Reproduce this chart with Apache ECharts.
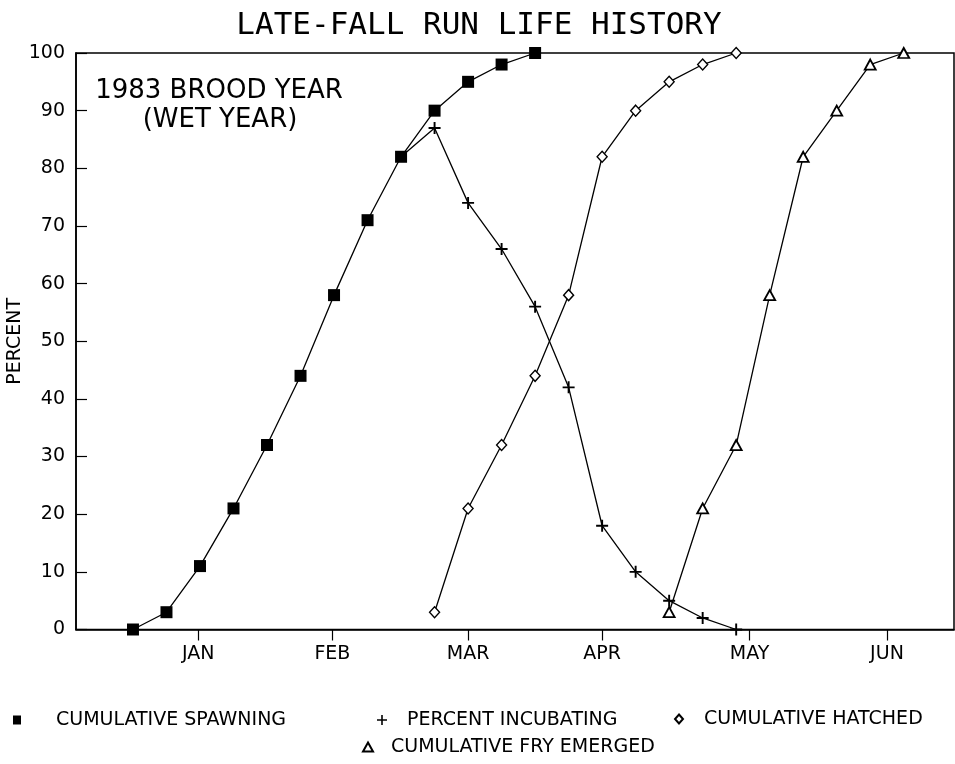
<!DOCTYPE html>
<html>
<head>
<meta charset="utf-8">
<title>Late-Fall Run Life History</title>
<script src="https://cdn.jsdelivr.net/npm/echarts@6/dist/echarts.min.js"></script>
<style>
  html, body { margin: 0; padding: 0; background: #fff; }
  #chart { width: 955px; height: 764px; }
</style>
</head>
<body>
<div id="chart"></div>
<script>
// x values are weeks from the first spawning observation
const monthTicks  = [1.95, 5.95, 10, 14, 18.4, 22.5];
const monthLabels = ['JAN', 'FEB', 'MAR', 'APR', 'MAY', 'JUN'];

const spawnWeeks = [0, 1, 2, 3, 4, 5, 6, 7, 8, 9, 10, 11, 12];
const spawning   = [0, 3, 11, 21, 32, 44, 58, 71, 82, 90, 95, 98, 100];

const incubWeeks = [8, 9, 10, 11, 12, 13, 14, 15, 16, 17, 18];
const incubating = [82, 87, 74, 66, 56, 42, 18, 10, 5, 2, 0];

const hatchWeeks = [9, 10, 11, 12, 13, 14, 15, 16, 17, 18];
const hatched    = [3, 21, 32, 44, 58, 82, 90, 95, 98, 100];

const fryWeeks   = [16, 17, 18, 19, 20, 21, 22, 23];
const fryEmerged = [3, 21, 32, 58, 82, 90, 98, 100];

const seriesNames = ['CUMULATIVE SPAWNING', 'PERCENT INCUBATING', 'CUMULATIVE HATCHED', 'CUMULATIVE FRY EMERGED'];

const FONT = "'DejaVu Sans', sans-serif";
const plusPath = 'path://M0,4.2H10V5.8H0Z M4.2,0H5.8V10H4.2Z';

const pairs = (xs, ys) => xs.map((x, i) => [x, ys[i]]);

const lineBase = {
  type: 'line',
  clip: false,
  animation: false,
  lineStyle: { color: '#000', width: 1.3 },
  emphasis: { disabled: true }
};

function legendFor(name, icon, left, top, gap, w, h) {
  return {
    data: [{ name: name, icon: icon }],
    left: left, top: top,
    padding: 0,
    itemWidth: w, itemHeight: h,
    selectedMode: false,
    formatter: n => '{g| }' + n,
    textStyle: {
      fontFamily: FONT, fontSize: 19, color: '#000', lineHeight: 22,
      rich: { g: { width: gap } }
    }
  };
}

const chart = echarts.init(document.getElementById('chart'), null, { renderer: 'canvas' });

chart.setOption({
  backgroundColor: '#fff',
  animation: false,
  grid: {
    left: 76, right: 1, top: 53, bottom: 134.5,
    containLabel: false,
    outerBoundsMode: 'none',
    show: true, borderColor: '#000', borderWidth: 1.5, backgroundColor: 'transparent'
  },
  xAxis: {
    type: 'value',
    min: -1.7, max: 24.5,
    axisLine: { show: true, onZero: false, lineStyle: { color: '#000', width: 1.6 } },
    axisTick: { show: true, length: 11, lineStyle: { color: '#000', width: 1.2 }, customValues: monthTicks },
    axisLabel: {
      customValues: monthTicks,
      margin: 15,
      color: '#000', fontFamily: FONT, fontSize: 19,
      formatter: v => {
        let best = 0;
        monthTicks.forEach((t, i) => { if (Math.abs(t - v) < Math.abs(monthTicks[best] - v)) best = i; });
        return monthLabels[best];
      }
    },
    splitLine: { show: false }
  },
  yAxis: {
    type: 'value',
    min: 0, max: 100, interval: 10,
    name: 'PERCENT',
    nameLocation: 'middle',
    nameRotate: 90,
    nameGap: 51,
    nameMoveOverlap: false,
    nameTextStyle: { color: '#000', fontFamily: FONT, fontSize: 19 },
    axisLine: { show: true, onZero: false, lineStyle: { color: '#000', width: 1.6 } },
    axisTick: { show: true, inside: true, length: 11, lineStyle: { color: '#000', width: 1.2 } },
    axisLabel: { margin: 11, color: '#000', fontFamily: FONT, fontSize: 19 },
    splitLine: { show: false }
  },
  legend: [
    legendFor(seriesNames[0], 'rect', 13, 709, 30, 8, 9),
    legendFor(seriesNames[1], plusPath, 377, 709, 15, 10, 10),
    legendFor(seriesNames[2], 'diamond', 674, 708, 16, 8, 9),
    legendFor(seriesNames[3], 'triangle', 362, 736, 13, 10, 9)
  ],
  graphic: [
    {
      type: 'text', x: 479, y: 26, silent: true,
      style: { text: 'LATE-FALL RUN LIFE HISTORY', align: 'center', verticalAlign: 'middle',
               fontFamily: "'DejaVu Sans Mono', monospace", fontSize: 31, fill: '#000' }
    },
    {
      type: 'text', x: 219, y: 91, silent: true,
      style: { text: '1983 BROOD YEAR', align: 'center', verticalAlign: 'middle',
               fontFamily: FONT, fontSize: 26, fill: '#000' }
    },
    {
      type: 'text', x: 220, y: 120.5, silent: true,
      style: { text: '(WET YEAR)', align: 'center', verticalAlign: 'middle',
               fontFamily: FONT, fontSize: 26, fill: '#000' }
    }
  ],
  series: [
    Object.assign({}, lineBase, {
      name: seriesNames[1],
      z: 2,
      data: pairs(incubWeeks, incubating),
      symbol: plusPath,
      symbolSize: (v, p) => (p.dataIndex === 0 ? 0 : 12),
      itemStyle: { color: '#000' }
    }),
    Object.assign({}, lineBase, {
      name: seriesNames[0],
      z: 4,
      data: pairs(spawnWeeks, spawning),
      symbol: 'rect',
      symbolSize: 12,
      itemStyle: { color: '#000' }
    }),
    Object.assign({}, lineBase, {
      name: seriesNames[2],
      z: 3,
      data: pairs(hatchWeeks, hatched),
      symbol: 'diamond',
      symbolSize: [10, 11],
      itemStyle: { color: '#fff', borderColor: '#000', borderWidth: 1.4 }
    }),
    Object.assign({}, lineBase, {
      name: seriesNames[3],
      z: 3,
      data: pairs(fryWeeks, fryEmerged),
      symbol: 'triangle',
      symbolSize: [11, 10],
      itemStyle: { color: '#fff', borderColor: '#000', borderWidth: 1.8 }
    })
  ]
});
</script>
</body>
</html>
